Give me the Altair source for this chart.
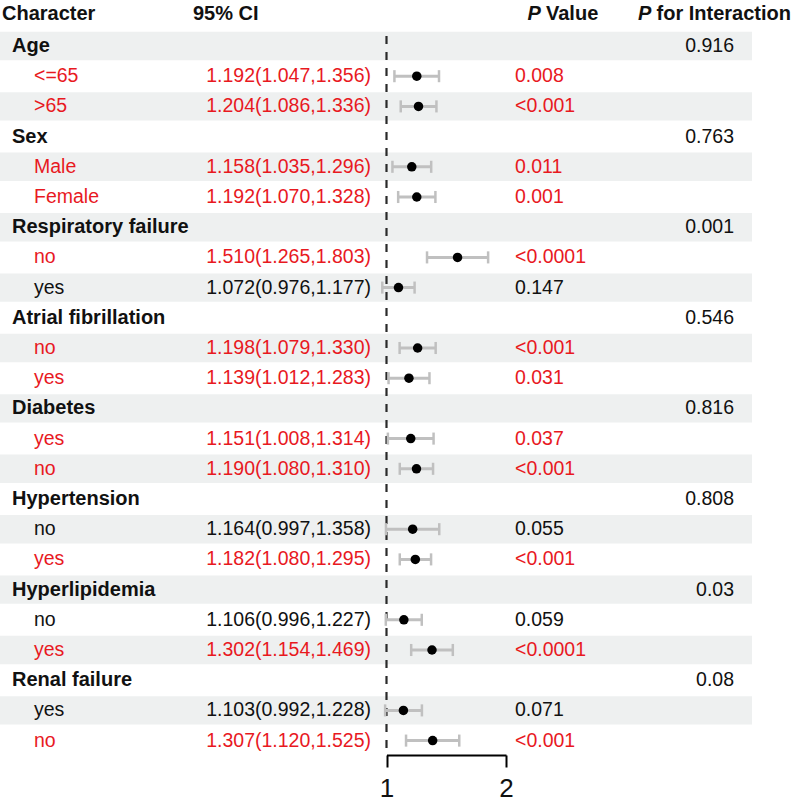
import altair as alt
import pandas as pd

groups = ["Age", "Sex", "Respiratory failure", "Atrial fibrillation",
          "Diabetes", "Hypertension", "Hyperlipidemia", "Renal failure"]
p_inter = ["0.916", "0.763", "0.001", "0.546", "0.816", "0.808", "0.03", "0.08"]
subgroups = ["<=65", ">65", "Male", "Female", "no", "yes", "no", "yes",
             "yes", "no", "no", "yes", "no", "yes", "yes", "no"]
or_est = [1.192, 1.204, 1.158, 1.192, 1.510, 1.072, 1.198, 1.139,
          1.151, 1.190, 1.164, 1.182, 1.106, 1.302, 1.103, 1.307]
ci_low = [1.047, 1.086, 1.035, 1.070, 1.265, 0.976, 1.079, 1.012,
          1.008, 1.080, 0.997, 1.080, 0.996, 1.154, 0.992, 1.120]
ci_high = [1.356, 1.336, 1.296, 1.328, 1.803, 1.177, 1.330, 1.283,
           1.314, 1.310, 1.358, 1.295, 1.227, 1.469, 1.228, 1.525]
p_value = ["0.008", "<0.001", "0.011", "0.001", "<0.0001", "0.147", "<0.001", "0.031",
           "0.037", "<0.001", "0.055", "<0.001", "0.059", "<0.0001", "0.071", "<0.001"]
axis_ticks = [1, 2]
ref_line = [1]

RED = "#e8191f"
BLACK = "#111111"
FONT = "Liberation Sans"
FS = 19.5
FSB = 20

rows = []
for gi, g in enumerate(groups):
    rows.append(dict(row=len(rows), label=g, kind="group", pint=p_inter[gi],
                     est=None, lo=None, hi=None, ci="", p="", color=BLACK))
    for j in range(2):
        k = 2 * gi + j
        pnum = float(p_value[k].replace("<", ""))
        rows.append(dict(
            row=len(rows), label=subgroups[k], kind="sub", pint="",
            est=or_est[k], lo=ci_low[k], hi=ci_high[k],
            ci=f"{or_est[k]:.3f}({ci_low[k]:.3f},{ci_high[k]:.3f})",
            p=p_value[k], color=RED if pnum < 0.05 else BLACK))
df = pd.DataFrame(rows)

Y_SCALE = alt.Scale(domain=[-1.523, 23.477], range=[0, 755], nice=False, zero=False)
X_SCALE = alt.Scale(type="log", base=2, domain=[1, 2], range=[386.5, 506], nice=False)
X_AXIS = alt.Axis(values=axis_ticks, format=".0f", title=None, grid=False,
                  domainColor="black", domainWidth=2, tickColor="black", tickWidth=2,
                  tickSize=12, labelFontSize=26, labelColor="#111111", labelFont=FONT,
                  labelPadding=8, labelFlush=False)

base = alt.Chart(df)

stripes = base.transform_filter("datum.row % 2 == 0").transform_calculate(
    y0="datum.row - 0.47", y1="datum.row + 0.47"
).mark_rect(color="#eef0f0").encode(
    x=alt.value(0), x2=alt.value(752),
    y=alt.Y("y0:Q", scale=Y_SCALE, axis=None), y2="y1:Q")

dashed = alt.Chart(pd.DataFrame({"v": ref_line})).mark_rule(
    strokeDash=[8, 8], color="#2a2a2a", strokeWidth=2.2
).encode(x=alt.X("v:Q", scale=X_SCALE, axis=X_AXIS),
         y=alt.value(36), y2=alt.value(755))

subs = base.transform_filter("datum.kind == 'sub'")

ci_line = subs.mark_rule(color="#c0c0c0", strokeWidth=3).encode(
    x=alt.X("lo:Q", scale=X_SCALE, axis=X_AXIS), x2="hi:Q",
    y=alt.Y("row:Q", scale=Y_SCALE, axis=None))

caps = subs.transform_fold(["lo", "hi"], as_=["end", "val"]).transform_calculate(
    ya="datum.row - 0.2", yb="datum.row + 0.2"
).mark_rule(color="#c0c0c0", strokeWidth=2.5).encode(
    x=alt.X("val:Q", scale=X_SCALE, axis=X_AXIS),
    y=alt.Y("ya:Q", scale=Y_SCALE, axis=None), y2="yb:Q")

points = subs.mark_circle(size=90, color="black", opacity=1).encode(
    x=alt.X("est:Q", scale=X_SCALE, axis=X_AXIS),
    y=alt.Y("row:Q", scale=Y_SCALE, axis=None))

grp = base.transform_filter("datum.kind == 'group'")
grp_label = grp.mark_text(align="left", baseline="middle", font=FONT, fontSize=FSB,
                          fontWeight="bold", color=BLACK).encode(
    x=alt.value(12), y=alt.Y("row:Q", scale=Y_SCALE, axis=None), text="label:N")
grp_pint = grp.mark_text(align="right", baseline="middle", font=FONT, fontSize=FS,
                         color=BLACK).encode(
    x=alt.value(734), y=alt.Y("row:Q", scale=Y_SCALE, axis=None), text="pint:N")

def sub_text(field, x, align):
    return subs.mark_text(align=align, baseline="middle", font=FONT, fontSize=FS).encode(
        x=alt.value(x), y=alt.Y("row:Q", scale=Y_SCALE, axis=None),
        text=f"{field}:N", color=alt.Color("color:N", scale=None))

sub_label = sub_text("label", 34, "left")
sub_ci = sub_text("ci", 371, "right")
sub_p = sub_text("p", 515, "left")

def header(txt, x, italic=False):
    return alt.Chart(pd.DataFrame({"t": [txt]})).mark_text(
        align="left", baseline="middle", font=FONT, fontSize=FSB, fontWeight="bold",
        fontStyle="italic" if italic else "normal", color=BLACK
    ).encode(x=alt.value(x), y=alt.value(14), text="t:N")

headers = [header("Character", 2), header("95% CI", 193),
           header("P", 527.5, True), header("Value", 546),
           header("P", 638, True), header("for Interaction", 656.5)]

chart = alt.layer(
    stripes, dashed, ci_line, caps, points,
    grp_label, grp_pint, sub_label, sub_ci, sub_p, *headers
).properties(
    width=796, height=755, background="white",
    padding={"left": 0, "top": 0, "right": 0, "bottom": 46},
    autosize=alt.AutoSizeParams(type="none"),
).configure_view(strokeWidth=0, stroke=None)

chart.save("out.html", embed_options={"renderer": "svg", "actions": False})
